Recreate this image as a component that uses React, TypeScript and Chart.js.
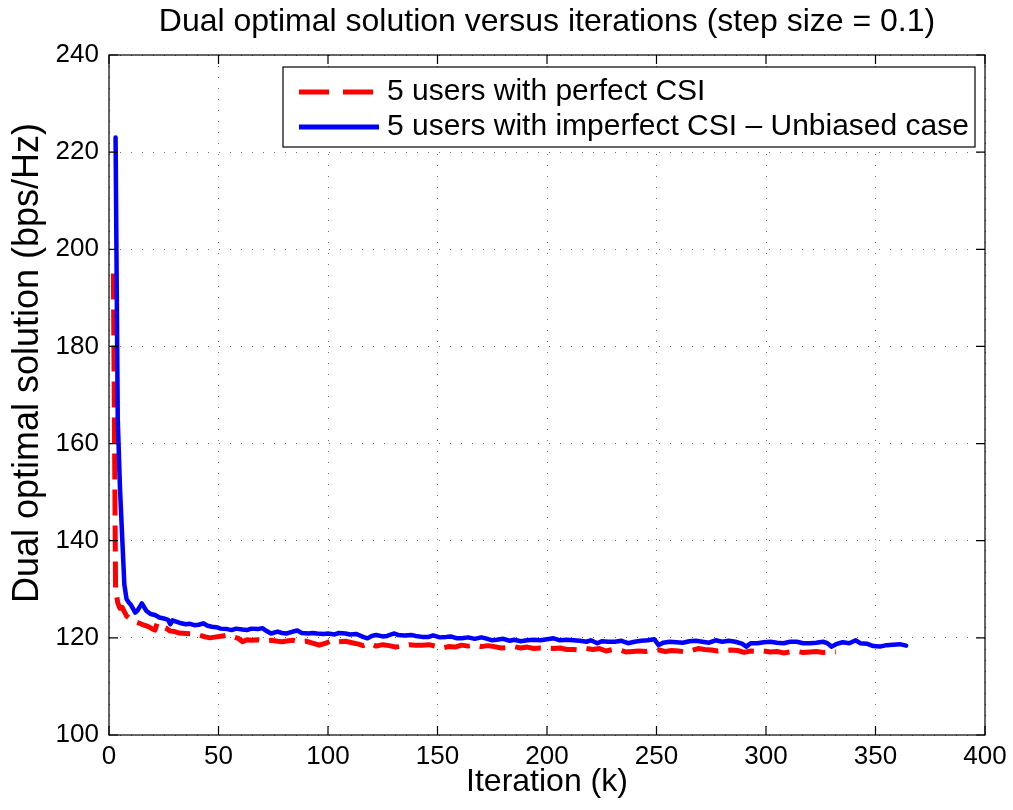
import React, { useEffect, useRef } from "react";
import { Chart, registerables } from "chart.js";

Chart.register(...registerables);

const TITLE = "Dual optimal solution versus iterations (step size = 0.1)";
const X_LABEL = "Iteration (k)";
const Y_LABEL = "Dual optimal solution (bps/Hz)";
const SERIES_NAMES = ["5 users with perfect CSI", "5 users with imperfect CSI \u2013 Unbiased case"];
const X_TICKS = [0, 50, 100, 150, 200, 250, 300, 350, 400];
const Y_TICKS = [100, 120, 140, 160, 180, 200, 220, 240];

const perfectIter = [
  2, 3, 4, 5, 6, 8, 10, 12, 14, 16, 18, 20, 21, 22, 24, 26, 28, 30, 32, 35, 38, 41, 44, 46, 49, 52, 55, 57, 59, 61,
  63, 65, 68, 71, 74, 77, 79, 82, 84, 87, 90, 93, 96, 99, 102, 105, 108, 111, 114, 116, 119, 122, 125, 128, 131, 134,
  137, 140, 143, 146, 149, 152, 155, 158, 161, 164, 167, 170, 173, 176, 179, 182, 185, 188, 191, 194, 197, 200, 203,
  206, 209, 212, 215, 218, 221, 224, 227, 230, 233, 236, 239, 242, 245, 248, 251, 254, 257, 260, 263, 266, 269, 272,
  275, 278, 281, 284, 287, 290, 293, 296, 299, 302, 305, 308, 311, 314, 317, 320, 323, 326, 329, 332,
];
const perfectVal = [
  195, 130, 127.2, 126.1, 126.3, 124.5, 123.8, 123.3, 123.0, 122.6, 122.3, 121.8, 121.6, 123.0, 122.4, 122.0, 121.4,
  121.3, 121.0, 120.9, 120.8, 120.6, 120.2, 120.0, 120.2, 120.4, 120.6, 120.2, 119.9, 119.2, 119.6, 119.5, 119.6,
  119.4, 119.5, 119.3, 119.2, 119.4, 119.5, 119.2, 119.3, 118.9, 118.5, 118.9, 119.5, 119.2, 119.3, 119.0, 118.7,
  118.4, 118.9, 118.3, 118.6, 118.4, 118.1, 118.3, 118.6, 118.5, 118.5, 118.6, 118.3, 117.9, 118.2, 118.1, 118.5,
  118.3, 118.5, 118.2, 118.4, 118.2, 117.9, 118.0, 118.2, 117.9, 118.1, 117.8, 117.9, 117.9, 117.8, 117.9, 117.6,
  117.6, 117.5, 117.8, 117.6, 117.8, 117.3, 117.6, 117.5, 117.1, 117.2, 117.3, 117.2, 117.4, 117.5, 117.2, 117.4,
  117.3, 117.1, 117.4, 117.8, 117.6, 117.5, 117.3, 117.4, 117.5, 117.4, 117.0, 117.3, 117.2, 117.3, 117.1, 117.2,
  116.9, 117.1, 117.2, 117.0, 117.1, 117.2, 117.0, 117.1, 117.1,
];

const imperfectIter = [
  3, 4, 5, 6, 7, 8, 9, 10, 12, 13, 15, 17, 19, 21, 23, 25, 27, 28, 29, 31, 33, 35, 37, 39, 41, 43, 45, 47, 49, 51, 54,
  56, 58, 61, 63, 65, 68, 70, 72, 74, 77, 79, 81, 84, 86, 88, 91, 93, 95, 98, 100, 103, 105, 108, 110, 113, 116, 118,
  120, 122, 125, 127, 130, 132, 135, 138, 140, 143, 146, 148, 151, 154, 156, 159, 161, 164, 167, 170, 172, 175, 177,
  180, 183, 185, 188, 191, 194, 197, 200, 203, 206, 209, 212, 215, 218, 220, 223, 225, 228, 231, 234, 237, 240, 243,
  246, 249, 251, 253, 256, 259, 262, 265, 268, 271, 274, 277, 280, 283, 286, 289, 291, 293, 296, 299, 302, 305, 308,
  311, 314, 317, 320, 323, 326, 328, 330, 332, 335, 338, 341, 343, 346, 349, 352, 355, 358, 361, 364,
];
const imperfectVal = [
  223, 165, 151, 141, 131, 128, 127.3, 126.8, 125.2, 125.6, 127.1, 125.6, 124.9, 124.7, 124.2, 124.0, 123.7, 122.8,
  123.6, 123.3, 123.0, 122.8, 122.9, 122.6, 122.7, 123.0, 122.5, 122.3, 122.2, 121.9, 121.8, 121.6, 121.9, 121.7,
  121.6, 121.9, 121.8, 122.0, 121.4, 120.9, 121.3, 121.0, 120.9, 121.3, 121.5, 121.0, 120.9, 121.0, 120.9, 120.8,
  120.9, 120.7, 121.0, 120.9, 120.7, 120.8, 120.2, 119.9, 120.4, 120.6, 120.3, 120.4, 120.9, 120.6, 120.5, 120.6,
  120.4, 120.2, 120.2, 120.5, 120.1, 120.2, 120.3, 119.9, 119.9, 120.1, 119.8, 120.1, 119.9, 119.5, 119.6, 119.8,
  119.4, 119.6, 119.3, 119.5, 119.6, 119.5, 119.7, 119.9, 119.5, 119.6, 119.5, 119.4, 119.2, 119.5, 118.9, 119.3,
  119.2, 119.2, 119.4, 118.9, 119.2, 119.4, 119.5, 119.7, 118.5, 119.0, 119.2, 119.1, 119.0, 119.3, 119.4, 119.2,
  119.0, 119.5, 119.2, 119.4, 119.2, 118.8, 118.2, 118.9, 118.9, 119.1, 119.2, 119.0, 118.9, 119.2, 119.2, 118.9,
  118.9, 119.0, 119.2, 118.9, 118.2, 118.7, 119.1, 118.9, 119.5, 118.9, 118.8, 118.3, 118.2, 118.5, 118.6, 118.7,
  118.4,
];

const FONT = "'Liberation Sans', Arial, Helvetica, sans-serif";
const RED = "#ff0000";
const BLUE = "#0000ff";

const toPoints = (xs: number[], ys: number[]) => xs.map((x, i) => ({ x, y: ys[i] }));

const decorPlugin = {
  id: "decor",
  afterDraw(chart: any) {
    const { ctx, chartArea: a, scales } = chart;
    const xs = scales.x;
    const ys = scales.y;
    ctx.save();
    ctx.strokeStyle = "#000";
    ctx.lineWidth = 1.2;
    ctx.setLineDash([]);
    ctx.strokeRect(a.left, a.top, a.right - a.left, a.bottom - a.top);
    const tl = 9;
    ctx.beginPath();
    for (const v of X_TICKS) {
      const p = xs.getPixelForValue(v);
      ctx.moveTo(p, a.bottom);
      ctx.lineTo(p, a.bottom - tl);
      ctx.moveTo(p, a.top);
      ctx.lineTo(p, a.top + tl);
    }
    for (const v of Y_TICKS) {
      const p = ys.getPixelForValue(v);
      ctx.moveTo(a.left, p);
      ctx.lineTo(a.left + tl, p);
      ctx.moveTo(a.right, p);
      ctx.lineTo(a.right - tl, p);
    }
    ctx.stroke();

    // legend
    const bl = a.left + 174;
    const bt = a.top + 12;
    const br = a.right - 10;
    const bb = a.top + 92;
    ctx.fillStyle = "#fff";
    ctx.fillRect(bl, bt, br - bl, bb - bt);
    ctx.strokeStyle = "#000";
    ctx.lineWidth = 1.2;
    ctx.strokeRect(bl, bt, br - bl, bb - bt);
    const rows = [bt + 25, bt + 60];
    const colors = [RED, BLUE];
    for (let i = 0; i < 2; i++) {
      ctx.beginPath();
      ctx.strokeStyle = colors[i];
      ctx.lineWidth = 5;
      ctx.setLineDash(i === 0 ? [30, 14] : []);
      ctx.moveTo(bl + 16, rows[i]);
      ctx.lineTo(bl + 96, rows[i]);
      ctx.stroke();
      ctx.setLineDash([]);
      ctx.fillStyle = "#000";
      ctx.font = `30px ${FONT}`;
      ctx.textAlign = "left";
      ctx.textBaseline = "middle";
      ctx.fillText(SERIES_NAMES[i], bl + 104, rows[i]);
    }

    // titles
    ctx.fillStyle = "#000";
    ctx.textAlign = "center";
    ctx.textBaseline = "middle";
    ctx.font = `32px ${FONT}`;
    ctx.fillText(TITLE, (a.left + a.right) / 2, 22);
    ctx.fillText(X_LABEL, (a.left + a.right) / 2, 782);
    ctx.save();
    ctx.translate(28, 363);
    ctx.rotate(-Math.PI / 2);
    ctx.font = `36px ${FONT}`;
    ctx.fillText(Y_LABEL, 0, 0);
    ctx.restore();
    ctx.restore();
  },
};

export default function App() {
  const ref = useRef<HTMLCanvasElement>(null);
  useEffect(() => {
    if (!ref.current) return;
    const gridColor = "rgba(0,0,0,0.55)";
    const chart = new Chart(ref.current, {
      type: "line",
      data: {
        datasets: [
          {
            label: SERIES_NAMES[1],
            data: toPoints(imperfectIter, imperfectVal),
            borderColor: BLUE,
            backgroundColor: BLUE,
            borderWidth: 4.5,
            pointRadius: 0,
            tension: 0,
            borderJoinStyle: "round",
            borderCapStyle: "round",
            fill: false,
          },
          {
            label: SERIES_NAMES[0],
            data: toPoints(perfectIter, perfectVal),
            borderColor: RED,
            backgroundColor: RED,
            borderWidth: 5,
            borderDash: [26, 10],
            pointRadius: 0,
            tension: 0,
            borderJoinStyle: "round",
            fill: false,
          },
        ],
      },
      options: {
        animation: false,
        responsive: false,
        maintainAspectRatio: false,
        layout: { padding: { top: 55, right: 28, left: 0, bottom: 0 } },
        plugins: {
          legend: { display: false },
          title: { display: false },
          tooltip: { enabled: false },
        },
        scales: {
          x: {
            type: "linear",
            min: 0,
            max: 400,
            afterBuildTicks: (s: any) => {
              s.ticks = X_TICKS.map((v) => ({ value: v }));
            },
            afterFit: (s: any) => {
              s.height = 75;
            },
            grid: { color: gridColor, lineWidth: 1, drawTicks: false },
            border: { display: false, dash: [1, 10] },
            ticks: { color: "#000", font: { family: FONT, size: 26 }, padding: 6, maxRotation: 0, autoSkip: false },
          },
          y: {
            type: "linear",
            min: 100,
            max: 240,
            afterBuildTicks: (s: any) => {
              s.ticks = Y_TICKS.map((v) => ({ value: v }));
            },
            afterFit: (s: any) => {
              s.width = 109;
            },
            grid: { color: gridColor, lineWidth: 1, drawTicks: false },
            border: { display: false, dash: [1, 10] },
            ticks: { color: "#000", font: { family: FONT, size: 26 }, padding: 10, autoSkip: false },
          },
        },
      },
      plugins: [decorPlugin],
    });
    return () => chart.destroy();
  }, []);
  return (
    <div style={{ position: "absolute", left: 0, top: 0, width: 1013, height: 810, background: "#fff" }}>
      <canvas ref={ref} width={1013} height={810} style={{ display: "block" }} />
    </div>
  );
}
